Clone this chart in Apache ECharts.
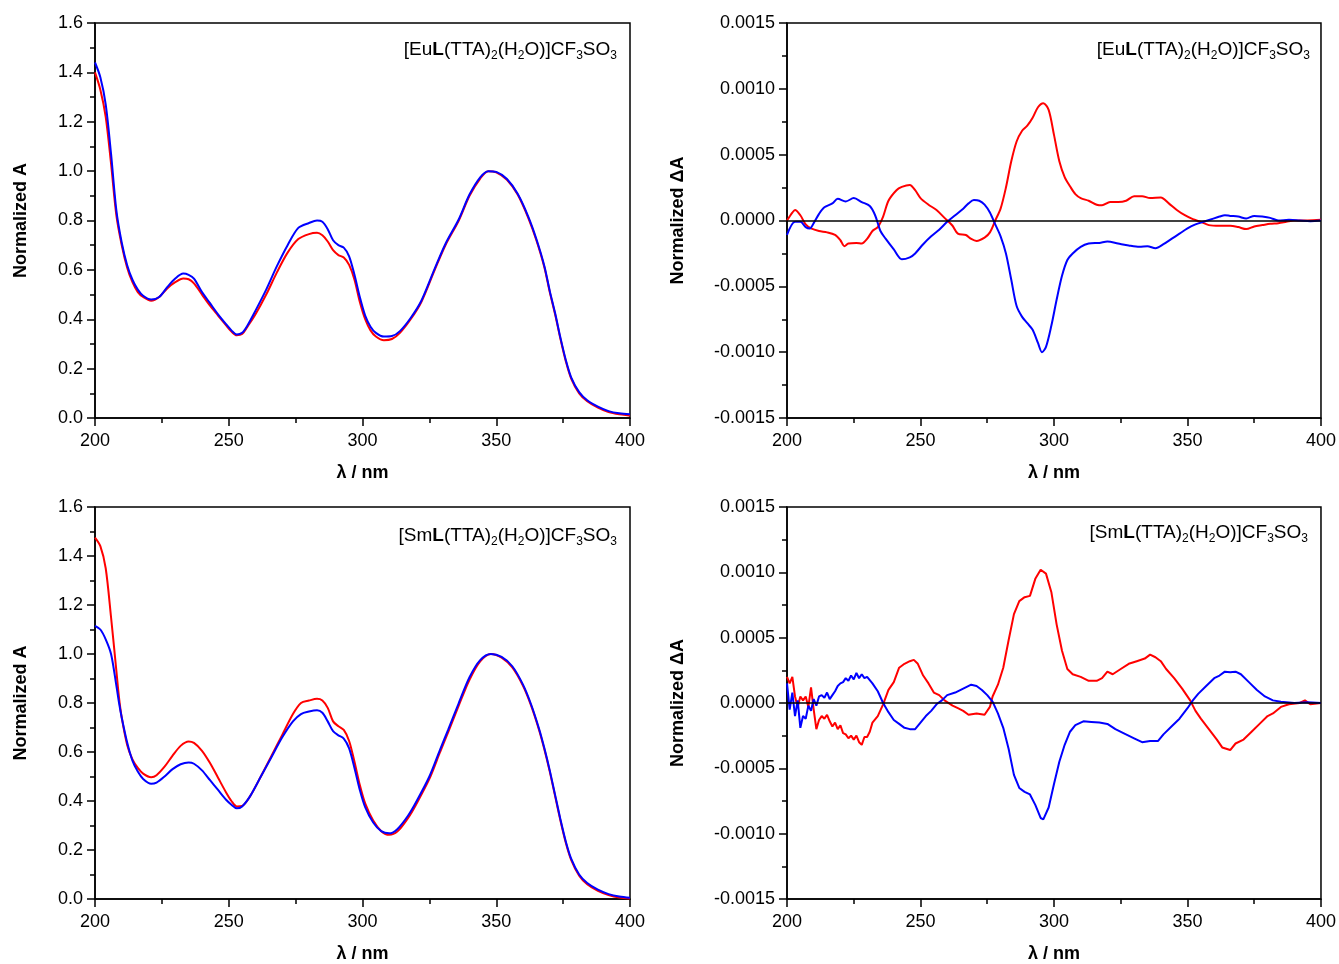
<!DOCTYPE html>
<html>
<head>
<meta charset="utf-8">
<script src="https://cdn.jsdelivr.net/npm/echarts@6/dist/echarts.min.js"></script>
<style>
html,body{margin:0;padding:0;background:#fff;}
#chart{width:1339px;height:964px;}
</style>
</head>
<body>
<div id="chart"></div>
<script>
// ---------- DATA ----------
// Panel 1: Eu absorption
const euAbsRedX = [200,202,204,206,208,210,212,214,216,218,221,224,227,230,233,235,237,240,243,246,249,251,253,255,257,260,264,268,272,276,280,283,285,287,289,291,293,295,297,299,301,303,305,308,311,314,318,322,327,331,336,340,344,347,350,354,358,362,365,368,370,372,374,376,378,381,384,388,392,396,400];
const euAbsRedY = [1.40,1.33,1.22,1.03,0.82,0.70,0.61,0.55,0.51,0.49,0.475,0.49,0.525,0.55,0.565,0.562,0.545,0.50,0.455,0.415,0.375,0.35,0.335,0.34,0.37,0.42,0.50,0.59,0.67,0.725,0.745,0.75,0.74,0.715,0.68,0.66,0.65,0.62,0.56,0.47,0.40,0.355,0.33,0.315,0.32,0.345,0.40,0.47,0.60,0.70,0.80,0.90,0.97,1.0,0.995,0.965,0.905,0.81,0.72,0.61,0.51,0.42,0.32,0.23,0.16,0.10,0.068,0.042,0.024,0.015,0.01];
const euAbsBlueX = [200,202,204,206,208,210,212,214,216,218,221,224,227,230,233,235,237,240,243,246,249,251,253,255,257,260,264,268,272,276,280,283,285,287,289,291,293,295,297,299,301,303,305,308,311,314,318,322,327,331,336,340,344,347,350,354,358,362,365,368,370,372,374,376,378,381,384,388,392,396,400];
const euAbsBlueY = [1.44,1.38,1.27,1.07,0.84,0.71,0.62,0.56,0.52,0.495,0.48,0.49,0.53,0.565,0.585,0.58,0.565,0.51,0.465,0.42,0.38,0.355,0.338,0.345,0.375,0.435,0.52,0.615,0.70,0.77,0.79,0.80,0.795,0.765,0.72,0.70,0.69,0.655,0.58,0.49,0.415,0.37,0.345,0.33,0.332,0.352,0.405,0.475,0.605,0.705,0.805,0.905,0.975,1.0,0.997,0.968,0.908,0.815,0.725,0.615,0.515,0.425,0.325,0.235,0.165,0.105,0.072,0.046,0.028,0.019,0.015];

// Panel 2: Eu ΔA
const euCdRedX = [200,202,203,205,207,209,212,215,218,220,221.5,223,226,228,230,232,234,236,238,241,243,246,248,250,253,256,259,262,264,267,269,271,274,276,278,280,282,284,286,288,290,292,294,296,298,300,302,304,306,308,310,313,316,318,321,324,327,330,333,336,340,343,346,349,352,355,358,362,366,369,372,375,378,381,384,387,390,395,400];
const euCdRedY = [0,6e-5,8e-5,4e-5,-3e-5,-6e-5,-8e-5,-9e-5,-1.1e-4,-1.5e-4,-1.95e-4,-1.75e-4,-1.7e-4,-1.75e-4,-1.4e-4,-8e-5,-5e-5,3e-5,1.5e-4,2.3e-4,2.55e-4,2.7e-4,2.3e-4,1.7e-4,1.2e-4,8e-5,2e-5,-4e-5,-1.0e-4,-1.1e-4,-1.4e-4,-1.55e-4,-1.3e-4,-9e-5,0,9e-5,2.5e-4,4.5e-4,6.0e-4,6.8e-4,7.2e-4,7.8e-4,8.6e-4,8.9e-4,8.4e-4,6.5e-4,4.5e-4,3.3e-4,2.6e-4,2.0e-4,1.7e-4,1.5e-4,1.2e-4,1.15e-4,1.4e-4,1.4e-4,1.5e-4,1.85e-4,1.85e-4,1.7e-4,1.75e-4,1.3e-4,8e-5,4e-5,1e-5,-1e-5,-3.5e-5,-4e-5,-4e-5,-5e-5,-6.5e-5,-4.5e-5,-3.5e-5,-2.5e-5,-2e-5,-1e-5,0,0,5e-6];
const euCdBlueX = [200,203,205,207,208.5,210,212,214,217,219,222,225,228,231,233,235,237,240,243,246,248,251,254,257,260,263,266,268,270,272,274,276,278,280,282,284,286,288,290,292,294,295.5,297,299,301,303,305,307,310,313,317,320,324,328,332,335,338,341,344,347,350,353,356,359,362,364,366,369,372,375,378,381,384,388,392,396,400];
const euCdBlueY = [-1.1e-4,-1e-5,-1e-5,-5e-5,-6e-5,-2e-5,5e-5,1.0e-4,1.3e-4,1.65e-4,1.45e-4,1.7e-4,1.4e-4,1.1e-4,4e-5,-8e-5,-1.4e-4,-2.2e-4,-2.95e-4,-2.8e-4,-2.5e-4,-1.8e-4,-1.2e-4,-7e-5,-1e-5,4e-5,9e-5,1.3e-4,1.55e-4,1.5e-4,1.2e-4,6e-5,-3e-5,-1.2e-4,-2.5e-4,-4.5e-4,-6.5e-4,-7.3e-4,-7.8e-4,-8.3e-4,-9.3e-4,-1.0e-3,-9.6e-4,-8.0e-4,-6.0e-4,-4.2e-4,-3.0e-4,-2.5e-4,-2.0e-4,-1.75e-4,-1.7e-4,-1.6e-4,-1.75e-4,-1.9e-4,-2.0e-4,-1.95e-4,-2.1e-4,-1.8e-4,-1.4e-4,-1.0e-4,-6e-5,-3e-5,-1e-5,1e-5,3e-5,4e-5,3.5e-5,3e-5,1.5e-5,3.5e-5,3e-5,2e-5,0,5e-6,0,-5e-6,0];

// Panel 3: Sm absorption
const smAbsRedX = [200,202,204,206,208,209,210,212,214,216,218,221,223,226,229,232,235,237,240,243,246,249,251,253,255,258,262,266,270,274,277,280,283,285,287,289,291,293,295,297,299,301,304,307,310,313,317,320,325,329,332,336,340,344,348,352,356,360,363,366,368,370,372,374,376,378,381,384,388,392,396,400];
const smAbsRedY = [1.475,1.44,1.35,1.15,0.93,0.82,0.74,0.63,0.57,0.535,0.512,0.497,0.505,0.54,0.585,0.625,0.643,0.637,0.605,0.555,0.495,0.435,0.40,0.378,0.38,0.42,0.50,0.585,0.67,0.755,0.80,0.81,0.817,0.81,0.78,0.725,0.705,0.69,0.645,0.56,0.465,0.39,0.32,0.277,0.262,0.275,0.33,0.385,0.49,0.60,0.68,0.79,0.895,0.97,1.0,0.985,0.945,0.87,0.79,0.69,0.61,0.52,0.42,0.32,0.23,0.16,0.095,0.06,0.033,0.016,0.006,0.002];
const smAbsBlueX = [200,202,204,206,208,209,210,212,214,216,218,221,223,226,229,232,235,237,240,243,246,249,251,253,255,258,262,266,270,274,277,280,283,285,287,289,291,293,295,297,299,301,304,307,310,313,317,320,325,329,332,336,340,344,348,352,356,360,363,366,368,370,372,374,376,378,381,384,388,392,396,400];
const smAbsBlueY = [1.115,1.10,1.06,1.00,0.87,0.80,0.74,0.64,0.565,0.52,0.49,0.47,0.475,0.50,0.53,0.55,0.557,0.552,0.525,0.485,0.445,0.405,0.385,0.37,0.378,0.42,0.50,0.58,0.66,0.725,0.755,0.765,0.77,0.76,0.725,0.685,0.668,0.655,0.615,0.535,0.445,0.375,0.312,0.277,0.268,0.285,0.34,0.395,0.50,0.61,0.69,0.80,0.905,0.975,1.0,0.988,0.95,0.875,0.795,0.695,0.615,0.525,0.425,0.325,0.235,0.165,0.10,0.065,0.038,0.02,0.01,0.005];

// Panel 4: Sm ΔA
const smCdRedX = [200,201,202,203,204,205,206,207,208,209,210,211,212,213,214,215,216,217,218,219,220,221,222,223,224,225,226,227,228,229,230,231,232,234,236,238,240,242,244,246,247.5,249,251,253,255,257,259,262,264,266,268,271,274,276,277,279,281,283,285,287,289,291,293,295,297,299,301,303,305,307,310,313,316,318,320,322,325,328,331,334,336,338,340,342,345,348,351,353,355,358,361,363,366,368,371,374,377,380,382,385,388,392,394,396,400];
const smCdRedY = [2.0e-4,1.5e-4,2.0e-4,5e-5,-3e-5,5e-5,2e-5,5e-5,-3e-5,1.2e-4,-5e-5,-2.0e-4,-1.3e-4,-1.0e-4,-1.2e-4,-9e-5,-1.4e-4,-1.8e-4,-1.5e-4,-2.0e-4,-1.7e-4,-2.3e-4,-2.4e-4,-2.7e-4,-2.5e-4,-2.8e-4,-2.5e-4,-3.0e-4,-3.2e-4,-2.6e-4,-2.6e-4,-2.2e-4,-1.5e-4,-1.0e-4,-1e-5,1.0e-4,1.6e-4,2.7e-4,3.0e-4,3.2e-4,3.3e-4,3.0e-4,2.1e-4,1.5e-4,8e-5,6e-5,2e-5,-2e-5,-4e-5,-6e-5,-9e-5,-8e-5,-9e-5,-3e-5,5e-5,1.4e-4,2.7e-4,4.8e-4,6.8e-4,7.8e-4,8.1e-4,8.2e-4,9.5e-4,1.02e-3,9.9e-4,8.5e-4,6.0e-4,4.0e-4,2.6e-4,2.2e-4,2.0e-4,1.7e-4,1.7e-4,1.9e-4,2.4e-4,2.2e-4,2.6e-4,3.0e-4,3.2e-4,3.4e-4,3.7e-4,3.5e-4,3.2e-4,2.6e-4,1.9e-4,1.1e-4,2e-5,-6e-5,-1.2e-4,-2.0e-4,-2.8e-4,-3.4e-4,-3.6e-4,-3.1e-4,-2.8e-4,-2.2e-4,-1.6e-4,-1.0e-4,-8e-5,-3e-5,-1e-5,0,2e-5,-1e-5,0];
const smCdBlueX = [200,201,202,203,204,205,206,207,208,209,210,211,212,213,214,215,216,217,218,219,220,221,222,223,224,225,226,227,228,229,230,232,234,236,238,240,242,244,246,248,250,252,254,256,258,260,263,266,269,271,273,275,277,279,281,283,285,287,289,291,293,295,296,298,300,302,304,306,308,311,314,317,320,323,326,330,333,336,339,341,344,347,350,352,354,357,360,362,364,366,368,370,373,376,379,382,385,390,395,400];
const smCdBlueY = [1.5e-4,-5e-5,8e-5,-1.0e-4,2e-5,-1.9e-4,-1.0e-4,-1.2e-4,-2e-5,-6e-5,3e-5,-2e-5,5e-5,6e-5,4e-5,8e-5,3e-5,6e-5,9e-5,1.3e-4,1.5e-4,1.6e-4,1.9e-4,1.7e-4,2.1e-4,1.8e-4,2.3e-4,1.9e-4,2.2e-4,1.9e-4,2.0e-4,1.5e-4,9e-5,0,-7e-5,-1.3e-4,-1.6e-4,-1.9e-4,-2.0e-4,-2.0e-4,-1.5e-4,-1.0e-4,-6e-5,-1e-5,2e-5,6e-5,8e-5,1.1e-4,1.4e-4,1.3e-4,1.0e-4,6e-5,1e-5,-8e-5,-1.9e-4,-3.5e-4,-5.5e-4,-6.5e-4,-6.8e-4,-7.0e-4,-7.8e-4,-8.8e-4,-8.9e-4,-8.0e-4,-6.2e-4,-4.5e-4,-3.2e-4,-2.2e-4,-1.7e-4,-1.4e-4,-1.45e-4,-1.5e-4,-1.6e-4,-2.0e-4,-2.3e-4,-2.7e-4,-3.0e-4,-2.9e-4,-2.9e-4,-2.4e-4,-1.8e-4,-1.2e-4,-4e-5,2e-5,7e-5,1.3e-4,1.9e-4,2.1e-4,2.4e-4,2.35e-4,2.4e-4,2.2e-4,1.6e-4,1.0e-4,5e-5,2e-5,1e-5,0,5e-6,0];

// Tick / axis text
const xTitle = 'λ / nm';
const yTitleAbs = 'Normalized A';
const yTitleCd = 'Normalized ΔA';
const euLabel = '{n|[Eu}{b|L}{n|(TTA)}{s|2}{n|(H}{s|2}{n|O)]CF}{s|3}{n|SO}{s|3}';
const smLabel = '{n|[Sm}{b|L}{n|(TTA)}{s|2}{n|(H}{s|2}{n|O)]CF}{s|3}{n|SO}{s|3}';

// ---------- CHART ----------
const FONT = '"Liberation Sans", Arial, sans-serif';
const RED = '#ff0000', BLUE = '#0000ff';
function zip(xs, ys){ return xs.map((x,i)=>[x, ys[i]]); }

const grids = [
  {left:95, top:23, width:535, height:395},
  {left:787, top:23, width:535, height:395},
  {left:95, top:507, width:535, height:395},
  {left:787, top:507, width:535, height:395}
].map(g => Object.assign({show:true, borderColor:'#000', borderWidth:1.5, backgroundColor:'transparent'}, g));

function xAxisFor(i){
  return {
    type:'value', gridIndex:i, min:200, max:400, interval:50,
    name:xTitle, nameLocation:'middle', nameGap:46,
    nameTextStyle:{fontFamily:FONT, fontSize:18, fontWeight:'bold', color:'#000'},
    axisLine:{show:true, onZero:false, lineStyle:{color:'#000', width:1.5}},
    axisTick:{show:true, inside:false, length:8, lineStyle:{color:'#000', width:1.5}},
    minorTick:{show:true, splitNumber:2, length:5, lineStyle:{color:'#000', width:1.5}},
    axisLabel:{fontFamily:FONT, fontSize:18, color:'#000', margin:14},
    splitLine:{show:false}, minorSplitLine:{show:false}
  };
}
function yAxisFor(i, cd){
  return {
    type:'value', gridIndex:i,
    min: cd ? -0.0015 : 0, max: cd ? 0.0015 : 1.6, interval: cd ? 0.0005 : 0.2,
    name: cd ? yTitleCd : yTitleAbs, nameLocation:'middle', nameGap: cd ? 100 : 65,
    nameTextStyle:{fontFamily:FONT, fontSize:18, fontWeight:'bold', color:'#000'},
    axisLine:{show:true, onZero:false, lineStyle:{color:'#000', width:1.5}},
    axisTick:{show:true, inside:false, length:8, lineStyle:{color:'#000', width:1.5}},
    minorTick:{show:true, splitNumber:2, length:5, lineStyle:{color:'#000', width:1.5}},
    axisLabel:{fontFamily:FONT, fontSize:18, color:'#000', margin:12,
      formatter: v => { if (Math.abs(v) < 1e-12) v = 0; return cd ? v.toFixed(4) : v.toFixed(1); }},
    splitLine:{show:false}, minorSplitLine:{show:false}
  };
}
function line(i, data, color, smooth, extra){
  return Object.assign({
    type:'line', xAxisIndex:i, yAxisIndex:i, data:data, showSymbol:false, symbol:'none',
    smooth:smooth, lineStyle:{color:color, width:2}, itemStyle:{color:color}, silent:true, z:3
  }, extra||{});
}
const zeroLine = {
  silent:true, symbol:['none','none'], label:{show:false},
  lineStyle:{color:'#000', width:1.5, type:'solid'}, data:[{yAxis:0}], animation:false
};

const richStyle = {
  n:{fontFamily:FONT, fontSize:19, fill:'#000', lineHeight:24, verticalAlign:'middle'},
  b:{fontFamily:FONT, fontSize:19, fontWeight:'bold', fill:'#000', lineHeight:24, verticalAlign:'middle'},
  s:{fontFamily:FONT, fontSize:12, fill:'#000', lineHeight:24, verticalAlign:'bottom'}
};
function annot(x, y, txt){
  return {type:'text', x:x, y:y, z:10, silent:true,
    style:{text:txt, rich:richStyle, align:'right', verticalAlign:'middle', fill:'#000', font:'19px '+FONT}};
}

const option = {
  animation:false,
  backgroundColor:'#fff',
  grid:grids,
  xAxis:[0,1,2,3].map(xAxisFor),
  yAxis:[yAxisFor(0,false), yAxisFor(1,true), yAxisFor(2,false), yAxisFor(3,true)],
  series:[
    line(0, zip(euAbsRedX, euAbsRedY), RED, 0.3),
    line(0, zip(euAbsBlueX, euAbsBlueY), BLUE, 0.3),
    line(1, zip(euCdRedX, euCdRedY), RED, 0.3, {markLine:zeroLine}),
    line(1, zip(euCdBlueX, euCdBlueY), BLUE, 0.3),
    line(2, zip(smAbsRedX, smAbsRedY), RED, 0.3),
    line(2, zip(smAbsBlueX, smAbsBlueY), BLUE, 0.3),
    line(3, zip(smCdRedX, smCdRedY), RED, false, {markLine:zeroLine}),
    line(3, zip(smCdBlueX, smCdBlueY), BLUE, false)
  ],
  graphic:[
    annot(617, 50, euLabel),
    annot(1310, 50, euLabel),
    annot(617, 536, smLabel),
    annot(1308, 533, smLabel)
  ]
};
const chart = echarts.init(document.getElementById('chart'), null, {renderer:'canvas'});
chart.setOption(option);
</script>
</body>
</html>
